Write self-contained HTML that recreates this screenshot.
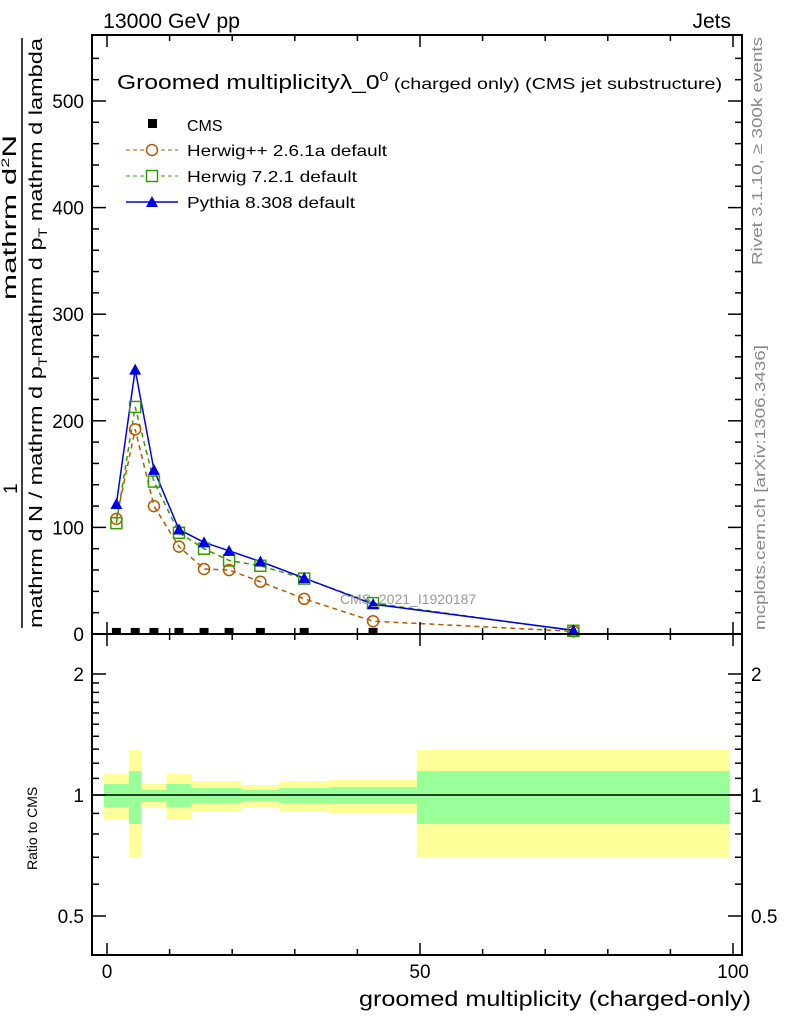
<!DOCTYPE html>
<html><head><meta charset="utf-8"><style>
html,body{margin:0;padding:0;background:#fff;}
svg{display:block;font-family:"Liberation Sans",sans-serif;}
</style></head><body>
<svg id="chart" width="786" height="1024" viewBox="0 0 786 1024">
<g id="bands"></g>
<g id="marks"></g>
<g id="axes"></g>
<rect x="92" y="35" width="650" height="599" fill="none" stroke="#000" stroke-width="2"/>
<rect x="92" y="634" width="650" height="321" fill="none" stroke="#000" stroke-width="2"/>
<text x="103" y="28" font-size="21" textLength="137" lengthAdjust="spacingAndGlyphs">13000 GeV pp</text>
<text x="731" y="28" font-size="21" text-anchor="end">Jets</text>
<text x="117" y="89" font-size="20" textLength="605" lengthAdjust="spacingAndGlyphs">Groomed multiplicityλ_0<tspan dy="-8" font-size="13">0</tspan><tspan dy="8" font-size="16"> (charged only) (CMS jet substructure)</tspan></text>
<g>
<rect x="148" y="119" width="9" height="9" fill="#000"/>
<text x="187" y="131" font-size="16">CMS</text>
<line x1="126" y1="150" x2="178" y2="150" stroke="#b35a00" stroke-dasharray="4,3"/>
<circle cx="152" cy="150" r="5.5" fill="#fff" stroke="#b35a00" stroke-width="1.5"/>
<text x="187" y="156" font-size="16" textLength="200" lengthAdjust="spacingAndGlyphs">Herwig++ 2.6.1a default</text>
<line x1="126" y1="176" x2="178" y2="176" stroke="#3a9b00" stroke-dasharray="4,3"/>
<rect x="146.5" y="170.5" width="11" height="11" fill="#fff" stroke="#3a9b00" stroke-width="1.5"/>
<text x="187" y="182" font-size="16" textLength="170" lengthAdjust="spacingAndGlyphs">Herwig 7.2.1 default</text>
<line x1="126" y1="202" x2="178" y2="202" stroke="#0000e6" stroke-width="1.5"/>
<polygon points="152,196 158,207 146,207" fill="#0000e6"/>
<text x="187" y="208" font-size="16" textLength="168" lengthAdjust="spacingAndGlyphs">Pythia 8.308 default</text>
</g>
<text x="340" y="604" font-size="14" fill="#999">CMS_2021_I1920187</text>
<text transform="translate(762,265) rotate(-90)" font-size="15" fill="#888" textLength="228" lengthAdjust="spacingAndGlyphs">Rivet 3.1.10, ≥ 300k events</text>
<text transform="translate(765,630) rotate(-90)" font-size="15" fill="#888" textLength="285" lengthAdjust="spacingAndGlyphs">mcplots.cern.ch [arXiv:1306.3436]</text>
<g>
<text transform="translate(17,494) rotate(-90)" font-size="19">1</text>
<line x1="22" y1="628" x2="22" y2="38" stroke="#000" stroke-width="1.5"/>
<text transform="translate(42,628) rotate(-90)" font-size="18" textLength="590" lengthAdjust="spacingAndGlyphs">mathrm d N / mathrm d p<tspan font-size="12" dy="5">T</tspan><tspan dy="-5">mathrm d p</tspan><tspan font-size="12" dy="5">T</tspan><tspan dy="-5"> mathrm d lambda</tspan></text>
<text transform="translate(16,300) rotate(-90)" font-size="19" textLength="165" lengthAdjust="spacingAndGlyphs">mathrm d<tspan font-size="11" dy="-7">2</tspan><tspan dy="7">N</tspan></text>
</g>
<text transform="translate(37,870) rotate(-90)" font-size="14">Ratio to CMS</text>
<text x="751" y="1006" font-size="21" text-anchor="end" textLength="392" lengthAdjust="spacingAndGlyphs">groomed multiplicity (charged-only)</text>
</svg>
<script>
const binLo=[-0.5,3.5,5.5,9.5,13.5,21.5,27.5,35.5,49.5];
const binHi=[3.5,5.5,9.5,13.5,21.5,27.5,35.5,49.5,99.5];
const xPts=[1.5,4.5,7.5,11.5,15.5,19.5,24.5,31.5,42.5,74.5];
const cmsVals=[1,1,1,1,1,1,1,1,1];
const cmsX=[1.5,4.5,7.5,11.5,15.5,19.5,24.5,31.5,42.5];
const herwigppVals=[108,192,120,82,61,60,49,33,12,2.5];
const herwig7Vals=[104,213,143,95,80,69,64,52,29,3];
const pythiaVals=[122,248,154,98,86,78,68,52.5,28,3.5];
const yellowUp=[1.128,1.294,1.065,1.128,1.083,1.059,1.083,1.09,1.294];
const yellowDn=[0.867,0.701,0.934,0.867,0.912,0.934,0.912,0.902,0.701];
const greenUp=[1.065,1.147,1.029,1.065,1.041,1.029,1.041,1.047,1.147];
const greenDn=[0.934,0.847,0.961,0.934,0.955,0.966,0.955,0.950,0.847];
const xTicks=[0,50,100];
const yTicks=[0,100,200,300,400,500];
const rTicks=[0.5,1,2];

const NS="http://www.w3.org/2000/svg";
const X=v=>107+v*6.26;
const Y=v=>634-v*1.066;
const R=v=>795-Math.log2(v)*121;
function mk(parent,tag,attrs){const e=document.createElementNS(NS,tag);for(const k in attrs)e.setAttribute(k,attrs[k]);document.getElementById(parent).appendChild(e);return e;}

for(let i=0;i<binLo.length;i++){
 let e=mk('bands','rect',{x:X(binLo[i]),y:R(yellowUp[i]),width:X(binHi[i])-X(binLo[i]),height:R(yellowDn[i])-R(yellowUp[i]),fill:'#ffff99'});
 
 
 let g=mk('bands','rect',{x:X(binLo[i]),y:R(greenUp[i]),width:X(binHi[i])-X(binLo[i]),height:R(greenDn[i])-R(greenUp[i]),fill:'#99ff99'});
 
 
}
let rl=mk('bands','line',{x1:92,x2:742,y1:R(1),y2:R(1),stroke:'#000','stroke-width':1.5});



function path(vals,color,dash,w,name){
 const d=vals.map((v,i)=>(i?'L':'M')+X(xPts[i])+','+Y(v)).join(' ');
 const p=mk('marks','path',{d:d,fill:'none',stroke:color,'stroke-width':w,'stroke-dasharray':dash});
 
 
}
path(herwigppVals,'#b35a00','5,4',1.5,'herwigpp-line');
path(herwig7Vals,'#3a9b00','5,4',1.5,'herwig7-line');
path(pythiaVals,'#0000e6','none',1.5,'pythia-line');
herwigppVals.forEach((v,i)=>{const c=mk('marks','circle',{cx:X(xPts[i]),cy:Y(v),r:5.5,fill:'none',stroke:'#b35a00','stroke-width':1.5});
 
 });
herwig7Vals.forEach((v,i)=>{const c=mk('marks','rect',{x:X(xPts[i])-5.5,y:Y(v)-5.5,width:11,height:11,fill:'none',stroke:'#3a9b00','stroke-width':1.5});
 
 });
pythiaVals.forEach((v,i)=>{const x=X(xPts[i]),y=Y(v);const c=mk('marks','polygon',{points:`${x},${y-6} ${x+6},${y+5} ${x-6},${y+5}`,fill:'#0000e6'});
 
 });
cmsX.forEach((xv,i)=>{const c=mk('marks','rect',{x:X(xv)-4.5,y:Y(cmsVals[i])-5,width:9,height:6,fill:'#000'});
 
 });

for(let v=0;v<=100;v+=10){
 const x=X(v),L=(v%50==0)?12:6;
 [[634,634-L],[35,35+L],[955,955-L],[634,634+L]].forEach(([a,b])=>{const t=mk('axes','line',{x1:x,x2:x,y1:a,y2:b,stroke:'#000','stroke-width':1.5});
 
 });
}
xTicks.forEach(v=>{const t=mk('axes','text',{x:X(v),y:978,'font-size':19,'text-anchor':'middle'});t.textContent=v;
 
 });
for(let v=0;v<=550;v+=20){
 const y=Y(v);if(y<36)continue;const L=(v%100==0)?14:7;
 [[92,92+L],[742,742-L]].forEach(([a,b])=>{const t=mk('axes','line',{x1:a,x2:b,y1:y,y2:y,stroke:'#000','stroke-width':1.5});
 
 });
}
yTicks.forEach(v=>{const t=mk('axes','text',{x:84,y:Y(v)+7,'font-size':19,'text-anchor':'end'});t.textContent=v;
 
 });
[0.5,0.6,0.7,0.8,0.9,1,1.1,1.2,1.3,1.4,1.5,1.6,1.7,1.8,1.9,2].forEach(v=>{const y=R(v);const L=(v==0.5||v==1||v==2)?14:7;
 [[92,92+L],[742,742-L]].forEach(([a,b])=>{const t=mk('axes','line',{x1:a,x2:b,y1:y,y2:y,stroke:'#000','stroke-width':1.5});
 
 });});
rTicks.forEach(v=>{[[84,'end'],[751,'start']].forEach(([x,a])=>{const t=mk('axes','text',{x:x,y:R(v)+7,'font-size':19,'text-anchor':a});t.textContent=v;
 
 });});
</script>
</body></html>
